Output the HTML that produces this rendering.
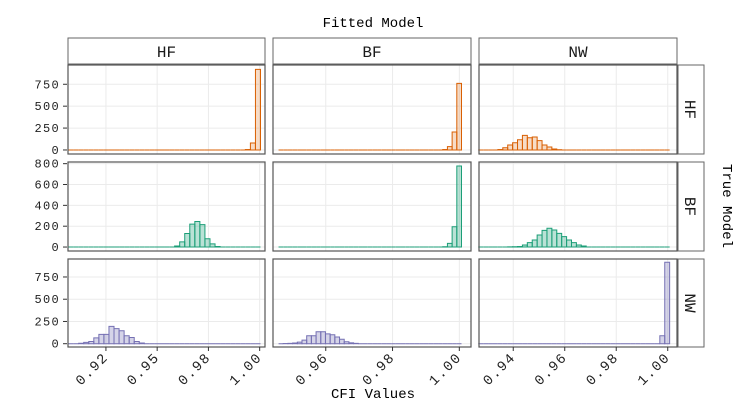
<!DOCTYPE html>
<html><head><meta charset="utf-8"><style>
html,body{margin:0;padding:0;background:#fff;}
svg{display:block;font-family:"Liberation Mono",monospace;}
</style></head><body>
<svg id="chart" width="750" height="420" viewBox="0 0 750 420">
<text x="373" y="27" font-size="14" text-anchor="middle" fill="#000">Fitted Model</text>
<text x="373" y="398" font-size="14" text-anchor="middle" fill="#000">CFI Values</text>
<text x="0" y="0" font-size="14" text-anchor="middle" transform="translate(723,206) rotate(90)">True Model</text>
</svg>
<script>
const colNames = ["HF","BF","NW"];
const rowNames = ["HF","BF","NW"];
const colBinStart = [0.90677, 0.94586, 0.92641];
const colBinWidth = [0.002464, 0.001405, 0.001906];
const colTickValues = [[0.925,0.95,0.975,1.0],[0.96,0.98,1.0],[0.94,0.96,0.98,1.0]];
const colTickLabels = [["0.92","0.95","0.98","1.00"],["0.96","0.98","1.00"],["0.94","0.96","0.98","1.00"]];
const rowTickValues = [[0,250,500,750],[0,200,400,600,800],[0,250,500,750]];
const rowYDomain = [[-46,970],[-38,816],[-37,952]];
// counts[row][col]
const countsHF_HF = [0,0,0,0,0,0,0,0,0,0,0,0,0,0,0,0,0,0,0,0,0,0,0,0,0,0,0,0,0,0,0,0,0,0,0,5,80,920];
const countsHF_BF = [0,0,0,0,0,0,0,0,0,0,0,0,0,0,0,0,0,0,0,0,0,0,0,0,0,0,0,0,0,0,0,0,0,0,0,5,38,205,760];
const countsHF_NW = [0,0,0,0,5,26,57,83,117,167,140,148,106,57,34,11,3,0,0,0,0,0,0,0,0,0,0,0,0,0,0,0,0,0,0,0,0,0,0];
const countsBF_HF = [0,0,0,0,0,0,0,0,0,0,0,0,0,0,0,0,0,0,0,0,0,10,50,130,220,245,215,80,30,5,0,0,0,0,0,0,0,0];
const countsBF_BF = [0,0,0,0,0,0,0,0,0,0,0,0,0,0,0,0,0,0,0,0,0,0,0,0,0,0,0,0,0,0,0,0,0,0,0,3,35,195,778];
const countsBF_NW = [0,0,0,0,0,0,2,3,5,20,42,67,115,160,180,163,131,100,67,42,20,10,0,0,0,0,0,0,0,0,0,0,0,0,0,0,0,0,0];
const countsNW_HF = [0,0,5,15,25,65,105,105,195,170,145,90,70,25,8,0,0,0,0,0,0,0,0,0,0,0,0,0,0,0,0,0,0,0,0,0,0,0];
const countsNW_BF = [0,2,4,8,18,40,90,90,135,135,110,100,75,50,22,10,4,0,0,0,0,0,0,0,0,0,0,0,0,0,0,0,0,0,0,0,0,0,0];
const countsNW_NW = [0,0,0,0,0,0,0,0,0,0,0,0,0,0,0,0,0,0,0,0,0,0,0,0,0,0,0,0,0,0,0,0,0,0,0,0,0,90,915];
const counts = [[countsHF_HF,countsHF_BF,countsHF_NW],[countsBF_HF,countsBF_BF,countsBF_NW],[countsNW_HF,countsNW_BF,countsNW_NW]];

const NS="http://www.w3.org/2000/svg";
const svg=document.getElementById('chart');
const colX=[[68,265],[273,471],[479,677]];
const colRange=[[0.9065,1.0026],[0.9442,1.0035],[0.9267,1.0036]];
const rowY=[[65,154],[162,251],[259,347]];
const colors=["#d95f02","#1b9e77","#7570b3"];
const fills=["rgba(217,95,2,0.22)","rgba(27,158,119,0.3)","rgba(117,112,179,0.3)"];
function mk(tag,attrs){const e=document.createElementNS(NS,tag);for(const k in attrs)e.setAttribute(k,attrs[k]);svg.appendChild(e);return e;}
function xs(c,v){const[a,b]=colX[c];const[d0,d1]=colRange[c];return a+(v-d0)/(d1-d0)*(b-a);}
function ys(r,v){const[a,b]=rowY[r];const[d0,d1]=rowYDomain[r];return b-(v-d0)/(d1-d0)*(b-a);}

for(let c=0;c<3;c++){
  const s=mk('rect',{x:colX[c][0],y:38,width:colX[c][1]-colX[c][0],height:26,fill:'#fff',stroke:'#666','stroke-width':1});
  
  
  const t=mk('text',{x:(colX[c][0]+colX[c][1])/2,y:57,'font-size':16,'text-anchor':'middle',fill:'#1a1a1a'});
  t.textContent=colNames[c];
  
  
}
for(let r=0;r<3;r++){
  const s=mk('rect',{x:678,y:rowY[r][0],width:26,height:rowY[r][1]-rowY[r][0],fill:'#fff',stroke:'#666','stroke-width':1});
  
  
  const cy=(rowY[r][0]+rowY[r][1])/2;
  const t=mk('text',{x:0,y:0,'font-size':16,'text-anchor':'middle',fill:'#1a1a1a',transform:`translate(685,${cy}) rotate(90)`});
  t.textContent=rowNames[r];
  
  
}
for(let r=0;r<3;r++){
  rowTickValues[r].forEach(v=>{
    const y=ys(r,v);
    const t=mk('text',{x:60,y:y+4,'font-size':12,'text-anchor':'end',fill:'#222','letter-spacing':'1.3'});
    t.textContent=v;
    
    
    const tk=mk('line',{x1:63,x2:67,y1:y,y2:y,stroke:'#333','stroke-width':1});
    
    
  });
  for(let c=0;c<3;c++){
    const[x0,x1]=colX[c];const[y0,y1]=rowY[r];
    const bg=mk('rect',{x:x0,y:y0,width:x1-x0,height:y1-y0,fill:'#fff'});
    
    
    rowTickValues[r].forEach(v=>{const y=ys(r,v);const g=mk('line',{x1:x0,x2:x1,y1:y,y2:y,stroke:'#ebebeb','stroke-width':1});
      
      });
    colTickValues[c].forEach(v=>{const x=xs(c,v);const g=mk('line',{x1:x,x2:x,y1:y0,y2:y1,stroke:'#ebebeb','stroke-width':1});
      
      });
    const data=counts[r][c];
    data.forEach((n,i)=>{
      const a=xs(c,colBinStart[c]+i*colBinWidth[c]);
      const b=xs(c,colBinStart[c]+(i+1)*colBinWidth[c]);
      const yt=ys(r,n),yb=ys(r,0);
      const bar=mk('path',{d:`M${a},${yb}V${yt}H${b}V${yb}Z`,fill:fills[r],stroke:colors[r],'stroke-width':1});
      
      
    });
    const br=mk('rect',{x:x0,y:y0,width:x1-x0,height:y1-y0,fill:'none',stroke:'#555','stroke-width':1.2});
    
    
  }
}
for(let c=0;c<3;c++){
  colTickValues[c].forEach((v,i)=>{
    const x=xs(c,v);
    const tk=mk('line',{x1:x,x2:x,y1:347,y2:351,stroke:'#333','stroke-width':1});
    
    
    const t=mk('text',{x:0,y:0,'font-size':14,'letter-spacing':'1.5','text-anchor':'end',fill:'#222',transform:`translate(${x+3},${358}) rotate(-45)`});
    t.textContent=colTickLabels[c][i];
    
    
  });
}
</script>
</body></html>
